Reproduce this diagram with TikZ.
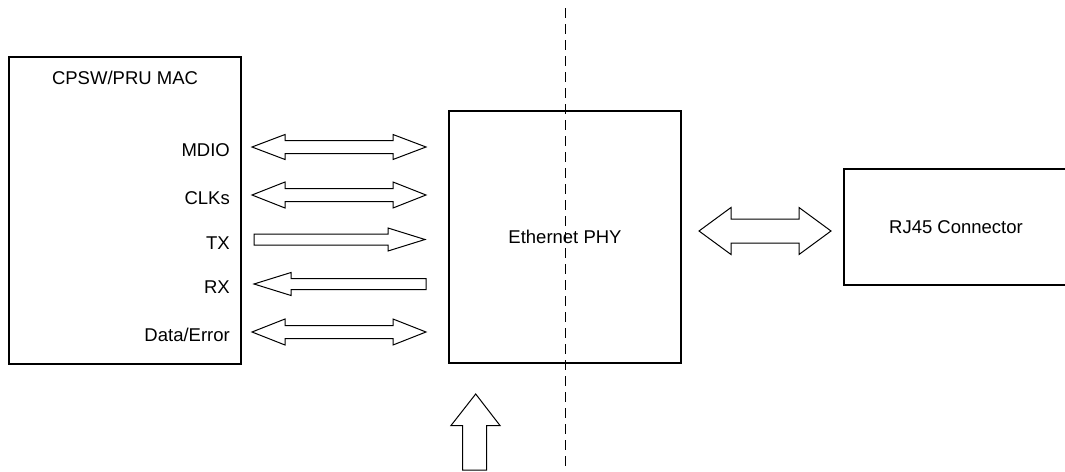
\documentclass[tikz,border=0pt]{standalone}
\usepackage{fontspec}
\setmainfont{Liberation Sans}
\usepackage{tikz}
\usetikzlibrary{positioning}

% block arrows, drawn in pixel units (y grows downwards)
% #1 left x, #2 right x, #3 y, #4 half shaft, #5 half head, #6 head length
\newcommand{\dblblock}[6]{%
  \draw[blk] (#1,#3) -- ({#1+#6},{#3-#5}) -- ({#1+#6},{#3-#4}) -- ({#2-#6},{#3-#4})
    -- ({#2-#6},{#3-#5}) -- (#2,#3) -- ({#2-#6},{#3+#5}) -- ({#2-#6},{#3+#4})
    -- ({#1+#6},{#3+#4}) -- ({#1+#6},{#3+#5}) -- cycle;}
% #1 tail x, #2 tip x, #3 y, #4 half shaft, #5 half head, #6 signed head length
\newcommand{\oneblock}[6]{%
  \draw[blk] (#1,{#3-#4}) -- ({#2-(#6)},{#3-#4}) -- ({#2-(#6)},{#3-#5}) -- (#2,#3)
    -- ({#2-(#6)},{#3+#5}) -- ({#2-(#6)},{#3+#4}) -- (#1,{#3+#4}) -- cycle;}

\begin{document}
\begin{tikzpicture}[
  x=1pt, y=-1pt,
  box/.style={draw=black, line width=1.6pt, inner sep=0pt},
  lbl/.style={font=\fontsize{18.5}{22}\selectfont, inner sep=0pt},
  blk/.style={draw=black, line width=1pt, fill=white, line join=miter},
  cut/.style={draw=black, line width=1pt, dash pattern=on 10pt off 6pt}
]
\useasboundingbox (0,0) rectangle (1065,471);
\clip (0,0) rectangle (1065,471);

% blocks
\node[box, minimum width=232pt, minimum height=307pt] (mac) at (125,210.5) {};
\node[lbl, anchor=base] (mactitle) at (125,84.5) {CPSW/PRU MAC};
\node[box, minimum width=232pt, minimum height=252pt, lbl] (phy) at (565,237) {Ethernet PHY};
\node[box, minimum width=224pt, minimum height=116pt, lbl] (rj45) at (956,227) {RJ45 Connector};

% interface signals
\foreach \nm/\txt/\y in {mdio/MDIO/147, clks/CLKs/195, tx/TX/239.5, rx/RX/284, dataerr/{Data/Error}/332}
  \node[lbl, anchor=base east] (\nm) at (230,{\y+9.5}) {\txt};

\dblblock{252}{426}{147}{6.5}{12.5}{33}
\dblblock{252}{426}{195}{6.5}{13}{33}
\oneblock{254}{425}{239.5}{5.5}{11.5}{37}
\oneblock{426}{254}{284}{5.5}{11.5}{-37}
\dblblock{252}{426}{332}{6.5}{13}{33}

% line side
\dblblock{699}{831}{231}{12}{23.5}{32}

% supply arrow from below
\draw[blk] (462.5,470) -- (462.5,425.5) -- (451,425.5) -- (475.7,394)
  -- (500,425.5) -- (486.5,425.5) -- (486.5,470) -- cycle;

% isolation boundary
\coordinate (cuttop) at (565,8);
\coordinate (cutbot) at (565,471);
\draw[cut] (cuttop) -- (cutbot);
\end{tikzpicture}
\end{document}
